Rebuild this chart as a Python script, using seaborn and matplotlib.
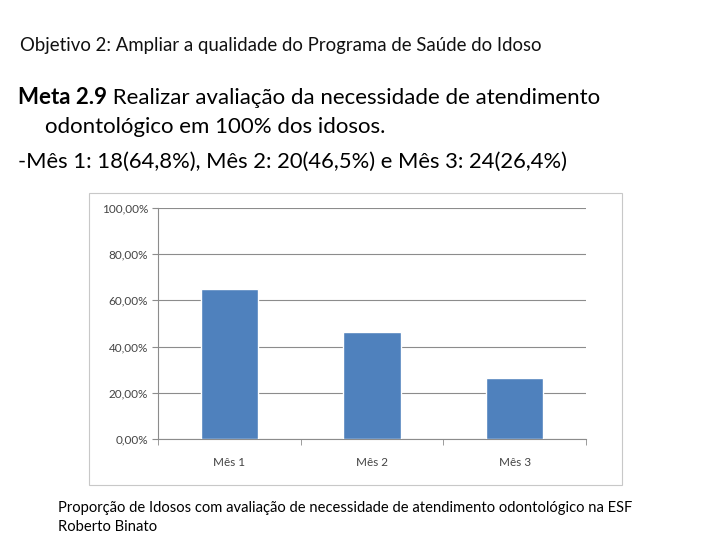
import matplotlib
matplotlib.use("Agg")
import matplotlib.pyplot as plt
import matplotlib.patches as patches
from matplotlib.ticker import FuncFormatter, FixedLocator
import seaborn as sns
import pandas as pd

# -------------------------------
# Data
# -------------------------------
meses = ["Mês 1", "Mês 2", "Mês 3"]
proporcao = [64.8, 46.5, 26.4]
y_ticks = [0, 20, 40, 60, 80, 100]

titulo = "Objetivo 2: Ampliar a qualidade do Programa de Saúde do Idoso"
meta_bold = "Meta 2.9"
meta_resto = " Realizar avaliação da necessidade de atendimento"
meta_linha2 = "odontológico em 100% dos idosos."
meta_linha3 = "-Mês 1: 18(64,8%), Mês 2: 20(46,5%) e Mês 3: 24(26,4%)"
rodape = ["Proporção de Idosos com avaliação de necessidade de atendimento odontológico na ESF",
          "Roberto Binato"]

df = pd.DataFrame({"mes": meses, "valor": proporcao})

sns.set_style("white")
plt.rcParams["font.family"] = ["Lato", "DejaVu Sans"]

fig = plt.figure(figsize=(7.2, 5.4), dpi=100)

# chart frame (light gray box around chart)
frame = patches.Rectangle((89 / 720, 1 - 485 / 540), (622 - 89) / 720, (485 - 193) / 540,
                          transform=fig.transFigure, fill=False, edgecolor="#c8c8c8",
                          linewidth=0.8)
fig.patches.append(frame)

ax = fig.add_axes([158 / 720, 1 - 439 / 540, (586 - 158) / 720, (439 - 208) / 540])
sns.barplot(data=df, x="mes", y="valor", color="#4F81BD", width=0.4,
            saturation=1, ax=ax, zorder=3)

ax.set_ylim(0, 100)
ax.set_xlim(-0.5, 2.5)
ax.yaxis.set_major_locator(FixedLocator(y_ticks))
ax.yaxis.set_major_formatter(FuncFormatter(lambda v, p: f"{v:.2f}%".replace(".", ",")))
ax.yaxis.grid(True, color="#8c8c8c", linewidth=0.8, zorder=0)
ax.set_axisbelow(True)
ax.set_xlabel("")
ax.set_ylabel("")

for s in ["top", "right"]:
    ax.spines[s].set_visible(False)
for s in ["left", "bottom"]:
    ax.spines[s].set_color("#8c8c8c")
    ax.spines[s].set_linewidth(0.8)

ax.tick_params(axis="y", which="major", length=4, color="#8c8c8c", labelsize=8.5,
               labelcolor="#444444", pad=3, left=True)
ax.tick_params(axis="x", which="major", length=0, labelsize=8.5, labelcolor="#444444", pad=13)
ax.xaxis.set_minor_locator(FixedLocator([-0.5, 0.5, 1.5, 2.5]))
ax.tick_params(axis="x", which="minor", length=4, color="#8c8c8c", bottom=True)

# slide texts
fig.text(20 / 720, 1 - 46 / 540, titulo, fontsize=13.4, va="center", ha="left", color="#111111")

t_bold = fig.text(18 / 720, 1 - 98 / 540, meta_bold, fontsize=16, fontweight="bold",
                  va="center", ha="left", color="black")
renderer = fig.canvas.get_renderer()
bb = t_bold.get_window_extent(renderer=renderer)
fig.text(bb.x1 / fig.bbox.width, 1 - 98 / 540, meta_resto, fontsize=16,
         va="center", ha="left", color="black")
fig.text(45 / 720, 1 - 127 / 540, meta_linha2, fontsize=16, va="center", ha="left", color="black")
fig.text(18 / 720, 1 - 162 / 540, meta_linha3, fontsize=15.8, va="center", ha="left", color="black")

fig.text(58 / 720, 1 - 508 / 540, rodape[0], fontsize=10.6, va="center", ha="left", color="black")
fig.text(58 / 720, 1 - 527 / 540, rodape[1], fontsize=10.6, va="center", ha="left", color="black")

fig.savefig("out.png", dpi=100)
